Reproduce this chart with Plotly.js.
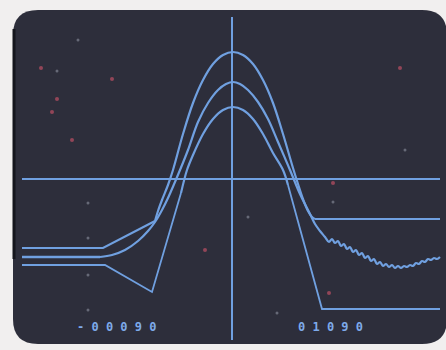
<!DOCTYPE html>
<html>
<head>
<meta charset="utf-8">
<script src="https://cdn.plot.ly/plotly-3.0.1.min.js"></script>
<style>html,body{margin:0;padding:0;background:#f1efef;}#chart{width:446px;height:350px;}</style>
</head>
<body>
<div id="chart"></div>
<script>
// Trace values (time offset from the centre line, amplitude from the horizontal reference line)
// Outer (tallest) pulse
const outerLeftX = [-210,-129,-77];
const outerLeftY = [-69,-69,-42];
const outerX = [-77,-74,-70,-64,-59,-49,-39,-29,-19,-9,1,11,21,31,41,51,61,66,71,76,80,83];
const outerY = [-42,-32,-21,-6,9,45,76,99,115,124,127,124,115,99,76,45,11,-5,-20,-32,-38,-40];
const outerRightX = [83,208];
const outerRightY = [-40,-40];

// Middle pulse (with ringing tail)
const middleLeftX = [-210,-132];
const middleLeftY = [-78,-78];
const middleX = [-132,-120,-107,-94,-84,-77,-70,-64,-52,-44,-34,-24,-14,-6,1,8,16,26,36,46,58,68,78,83,
  88,93,97,100,103,106,109,112,115,118,121,124,127,130,133,136,139,142,145,148,151,154,157,160,163,166,169,172,175,178,181,184,187,190,193,196,199,202,205,208];
const middleY = [-78,-76,-71,-62,-52,-43,-31,-19,9,29,57,76,89,95,97,95,89,77,60,37,9,-15,-35,-45,
  -52,-58,-63,-60,-64,-62,-67,-65,-70,-68,-73,-71,-76,-74,-79,-77,-82,-80,-85,-83,-87,-85,-88,-86,-89,-87,-89,-87,-88,-86,-87,-84,-85,-82,-83,-80,-81,-79,-80,-78];

// Inner (lowest) pulse with straight flanks
const innerLeftX = [-210,-127,-80,-51];
const innerLeftY = [-86,-86,-113,-14];
const innerX = [-51,-45,-39,-29,-19,-9,1,11,21,31,41,51,56];
const innerY = [-14,9,24,45,60,69,72,69,60,45,26,9,-6];
const innerRightX = [56,90,208];
const innerRightY = [-6,-130,-130];

const redDotsX = [-191,-120,-175,-180,-160,-27,101,168,97];
const redDotsY = [111,100,80,67,39,-71,-4,111,-114];
const greyDotsX = [-175,-144,-144,-144,-144,16,101,-154,45,173];
const greyDotsY = [108,-24,-59,-96,-131,-38,-23,139,-134,29];

const readoutLeft = "- 0 0 0 9 0";
const readoutRight = "0 1 0 9 0";

const beam = '#70a0e0';

function line(x, y, w, shape) {
  return {x: x, y: y, type: 'scatter', mode: 'lines', hoverinfo: 'skip',
          line: {color: beam, width: w, shape: shape, smoothing: 1}};
}

const data = [
  {x: redDotsX, y: redDotsY, type: 'scatter', mode: 'markers', hoverinfo: 'skip',
   marker: {color: 'rgba(190,80,100,0.7)', size: 4}},
  {x: greyDotsX, y: greyDotsY, type: 'scatter', mode: 'markers', hoverinfo: 'skip',
   marker: {color: 'rgba(150,155,170,0.55)', size: 3}},
  line(outerLeftX, outerLeftY, 2.2, 'linear'),
  line(outerX, outerY, 2.2, 'spline'),
  line(outerRightX, outerRightY, 2.2, 'linear'),
  line(middleLeftX, middleLeftY, 2.6, 'linear'),
  line(middleX, middleY, 2.2, 'spline'),
  line(innerLeftX, innerLeftY, 1.8, 'linear'),
  line(innerX, innerY, 2.2, 'spline'),
  line(innerRightX, innerRightY, 1.8, 'linear')
];

const layout = {
  width: 446, height: 350,
  margin: {l: 0, r: 0, t: 0, b: 0},
  paper_bgcolor: '#f1efef',
  plot_bgcolor: 'rgba(0,0,0,0)',
  showlegend: false,
  xaxis: {range: [-232, 214], visible: false, fixedrange: true},
  yaxis: {range: [-171, 179], visible: false, fixedrange: true},
  shapes: [
    {type: 'path', layer: 'below', xref: 'x', yref: 'y',
     path: 'M -194,169 L 190,169 Q 215,169 215,144 L 215,-140 Q 215,-165 190,-165 L -194,-165 Q -219,-165 -219,-140 L -219,144 Q -219,169 -194,169 Z',
     fillcolor: '#2d2e3b', line: {width: 0}},
    {type: 'line', layer: 'below', x0: -218, x1: -218, y0: 150, y1: -80, line: {color: '#15161d', width: 3}},
    {type: 'line', layer: 'below', x0: -210, x1: 208, y0: 0, y1: 0, line: {color: beam, width: 2}},
    {type: 'line', layer: 'below', x0: 0, x1: 0, y0: 162, y1: -161, line: {color: beam, width: 2}}
  ],
  annotations: [
    {x: -116, y: -148, xref: 'x', yref: 'y', text: readoutLeft, showarrow: false,
     font: {family: 'DejaVu Sans Mono', size: 12, color: '#7eaaea', weight: 'bold'}},
    {x: 98, y: -148, xref: 'x', yref: 'y', text: readoutRight, showarrow: false,
     font: {family: 'DejaVu Sans Mono', size: 12, color: '#7eaaea', weight: 'bold'}}
  ]
};

Plotly.newPlot('chart', data, layout, {staticPlot: true, displayModeBar: false});
</script>
</body>
</html>
